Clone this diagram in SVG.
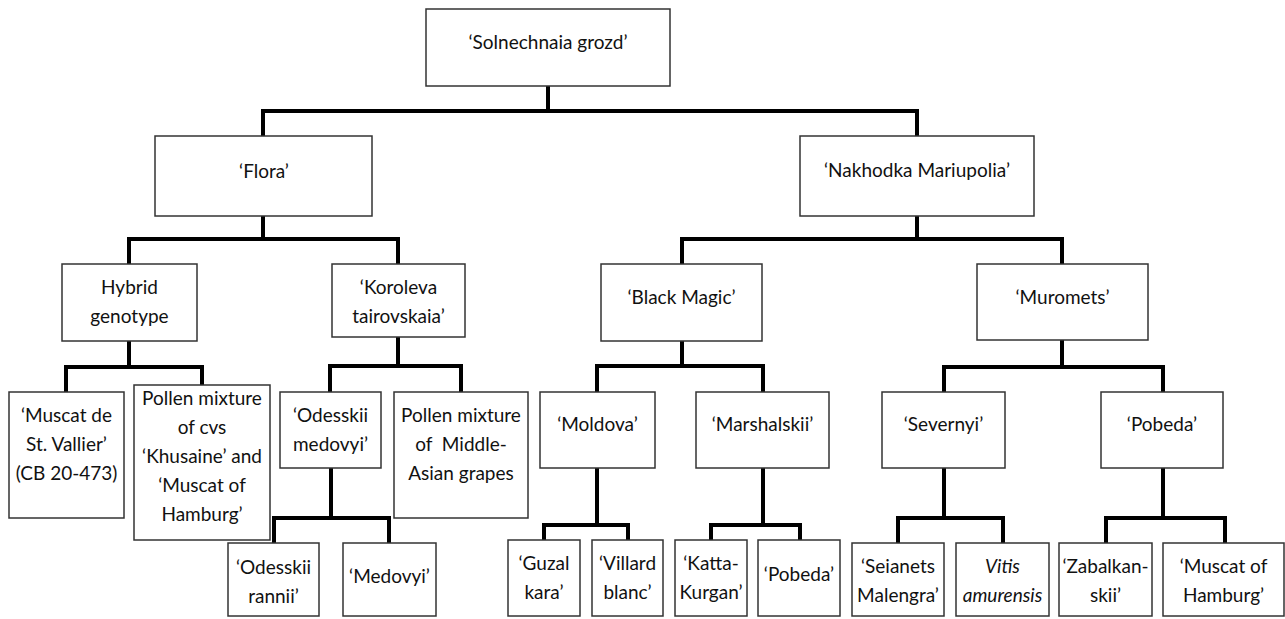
<svg xmlns="http://www.w3.org/2000/svg" width="1285" height="619" viewBox="0 0 1285 619">
<style>
.box{fill:#fff;stroke:#333;stroke-width:1.5}
.t{font-family:Lato,"Open Sans","Liberation Sans",sans-serif;font-size:19px;fill:#111;text-anchor:middle}
.it{font-style:italic}
.con{fill:none;stroke:#000;stroke-width:4;stroke-linejoin:miter}
</style>
<rect width="1285" height="619" fill="#fff"/>
<g id="connectors">
<path class="con" d="M548,86 V111 M263,136 V111 H917 V136"/>
<path class="con" d="M263,216 V239 M129,264 V239 H398 V264"/>
<path class="con" d="M917,216 V239 M682,264 V239 H1062 V264"/>
<path class="con" d="M129,341 V367 M66,392 V367 H202 V385"/>
<path class="con" d="M398,337 V366 M330,392 V366 H461 V392"/>
<path class="con" d="M682,341 V366 M597,392 V366 H763 V392"/>
<path class="con" d="M1062,340 V367 M944,392 V367 H1163 V392"/>
<path class="con" d="M331,468 V518 M274,543 V518 H389 V543"/>
<path class="con" d="M597,468 V525 M544,540 V525 H628 V540"/>
<path class="con" d="M763,468 V525 M711,540 V525 H800 V540"/>
<path class="con" d="M944,468 V518 M898,543 V518 H1003 V543"/>
<path class="con" d="M1163,468 V518 M1106,543 V518 H1225 V543"/>
</g>
<g id="n-solnechnaia"><rect class="box" x="426" y="9" width="244" height="77"/><text class="t" x="548" y="49">‘Solnechnaia grozd’</text></g>
<g id="n-flora"><rect class="box" x="155" y="136" width="217" height="80"/><text class="t" x="264" y="178">‘Flora’</text></g>
<g id="n-nakhodka"><rect class="box" x="800" y="136" width="234" height="80"/><text class="t" x="917" y="177">‘Nakhodka Mariupolia’</text></g>
<g id="n-hybrid"><rect class="box" x="62" y="264" width="135" height="77"/><text class="t" x="129.5" y="294">Hybrid</text><text class="t" x="129.5" y="323">genotype</text></g>
<g id="n-koroleva"><rect class="box" x="332" y="264" width="133" height="73"/><text class="t" x="398.5" y="294">‘Koroleva</text><text class="t" x="398.5" y="323">tairovskaia’</text></g>
<g id="n-blackmagic"><rect class="box" x="601" y="264" width="161" height="77"/><text class="t" x="681.5" y="304">‘Black Magic’</text></g>
<g id="n-muromets"><rect class="box" x="977" y="264" width="171" height="76"/><text class="t" x="1062.5" y="304">‘Muromets’</text></g>
<g id="n-muscatvallier"><rect class="box" x="9" y="392" width="115" height="126"/><text class="t" x="66.5" y="422">‘Muscat de</text><text class="t" x="66.5" y="451">St. Vallier’</text><text class="t" x="66.5" y="480">(CB 20-473)</text></g>
<g id="n-pollencvs"><rect class="box" x="134" y="385" width="136" height="155"/><text class="t" x="202" y="405">Pollen mixture</text><text class="t" x="202" y="434">of cvs</text><text class="t" x="202" y="463">‘Khusaine’ and</text><text class="t" x="202" y="492">‘Muscat of</text><text class="t" x="202" y="521">Hamburg’</text></g>
<g id="n-odesskiimedovyi"><rect class="box" x="280" y="392" width="101" height="76"/><text class="t" x="330.5" y="422">‘Odesskii</text><text class="t" x="330.5" y="451">medovyi’</text></g>
<g id="n-pollenasian"><rect class="box" x="394" y="392" width="134" height="126"/><text class="t" x="461" y="422">Pollen mixture</text><text class="t" x="461" y="451">of&#160; Middle-</text><text class="t" x="461" y="480">Asian grapes</text></g>
<g id="n-moldova"><rect class="box" x="540" y="392" width="115" height="76"/><text class="t" x="597.5" y="431">‘Moldova’</text></g>
<g id="n-marshalskii"><rect class="box" x="696" y="392" width="133" height="76"/><text class="t" x="762.5" y="431">‘Marshalskii’</text></g>
<g id="n-severnyi"><rect class="box" x="882" y="392" width="123" height="76"/><text class="t" x="943.5" y="431">‘Severnyi’</text></g>
<g id="n-pobeda1"><rect class="box" x="1101" y="392" width="122" height="76"/><text class="t" x="1162" y="431">‘Pobeda’</text></g>
<g id="n-odesskiirannii"><rect class="box" x="228" y="543" width="91" height="73"/><text class="t" x="273.5" y="574">‘Odesskii</text><text class="t" x="273.5" y="603">rannii’</text></g>
<g id="n-medovyi"><rect class="box" x="343" y="543" width="93" height="73"/><text class="t" x="389.5" y="583">‘Medovyi’</text></g>
<g id="n-guzal"><rect class="box" x="508" y="540" width="72" height="76"/><text class="t" x="544" y="570">‘Guzal</text><text class="t" x="544" y="599">kara’</text></g>
<g id="n-villard"><rect class="box" x="592" y="540" width="71" height="76"/><text class="t" x="627.5" y="570">‘Villard</text><text class="t" x="627.5" y="599">blanc’</text></g>
<g id="n-katta"><rect class="box" x="675" y="540" width="72" height="76"/><text class="t" x="711" y="570">‘Katta-</text><text class="t" x="711" y="599">Kurgan’</text></g>
<g id="n-pobeda2"><rect class="box" x="758" y="540" width="82" height="76"/><text class="t" x="799" y="581">‘Pobeda’</text></g>
<g id="n-seianets"><rect class="box" x="852" y="543" width="92" height="73"/><text class="t" x="898" y="573">‘Seianets</text><text class="t" x="898" y="602">Malengra’</text></g>
<g id="n-vitis"><rect class="box" x="956" y="543" width="93" height="73"/><text class="t it" x="1002.5" y="573">Vitis</text><text class="t it" x="1002.5" y="602">amurensis</text></g>
<g id="n-zabalkan"><rect class="box" x="1059" y="543" width="93" height="73"/><text class="t" x="1105.5" y="573">‘Zabalkan-</text><text class="t" x="1105.5" y="602">skii’</text></g>
<g id="n-muscathamburg"><rect class="box" x="1163" y="543" width="121" height="73"/><text class="t" x="1223.5" y="573">‘Muscat of</text><text class="t" x="1223.5" y="602">Hamburg’</text></g>
</svg>
